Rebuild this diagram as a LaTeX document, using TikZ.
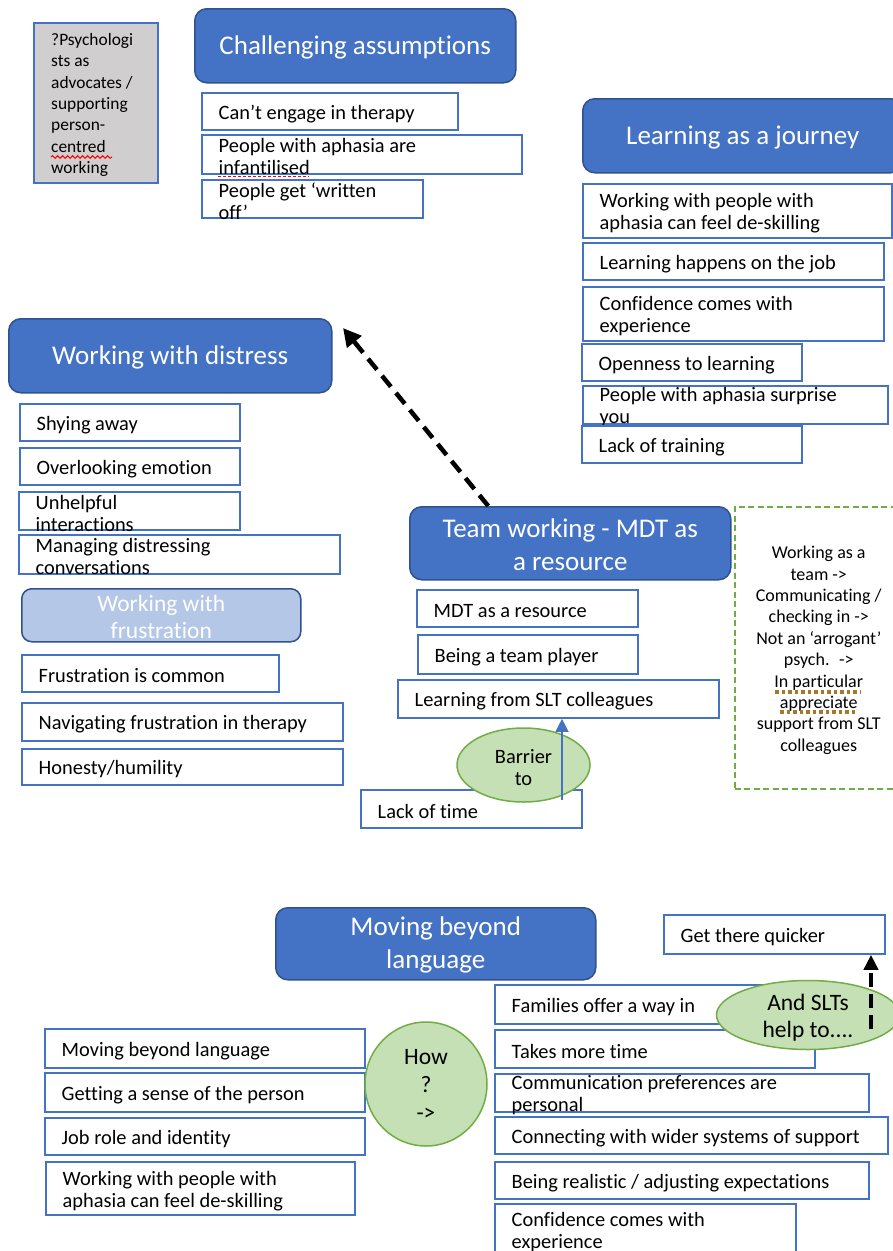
\documentclass[tikz,border=0pt]{standalone}
\usepackage{fontspec}
\setmainfont{Carlito}[Ligatures={NoCommon}]
\usetikzlibrary{arrows.meta,shapes.geometric,decorations.pathmorphing}

\definecolor{hdrfill}{HTML}{4472C4}
\definecolor{hdrline}{HTML}{2F528F}
\definecolor{boxline}{HTML}{4472C4}
\definecolor{lightfill}{HTML}{B4C7E7}
\definecolor{greyfill}{HTML}{D0CECE}
\definecolor{ovalfill}{HTML}{C5E0B4}
\definecolor{ovalline}{HTML}{70AD47}
\definecolor{grammar}{HTML}{A8782A}

\tikzset{
  itembox/.style={draw=boxline, line width=1.8pt, fill=white, rectangle, inner sep=0pt},
  itemtext/.style={align=left, inner sep=0pt, font=\fontsize{20.4}{22}\selectfont},
  header/.style={draw=hdrline, line width=1.5pt, fill=hdrfill, rounded corners=12pt,
    rectangle, inner sep=0pt},
  headertext/.style={text=white, align=center, inner sep=0pt, font=\fontsize{27}{33}\selectfont},
  subheader/.style={header, fill=lightfill, rounded corners=10pt},
  subheadertext/.style={headertext, font=\fontsize{23.5}{27}\selectfont},
  greybox/.style={draw=boxline, line width=1.8pt, fill=greyfill, rectangle, inner sep=0pt},
  greytext/.style={align=left, inner sep=0pt, font=\fontsize{17.4}{21.3}\selectfont},
  oval/.style={ellipse, draw=ovalline, line width=1.5pt, fill=ovalfill,
    inner sep=-2pt, align=center},
  ovaltext/.style={align=center, inner sep=0pt},
  notebox/.style={draw=ovalline, line width=1.5pt, dash pattern=on 6pt off 3.5pt,
    rectangle, inner sep=0pt},
  notetext/.style={align=center, inner sep=0pt, font=\fontsize{18}{21.4}\selectfont},
  bigdash/.style={draw=black, line width=4.5pt, dash pattern=on 14pt off 8pt,
    -{Triangle[length=18pt,width=18pt]}},
  thinarrow/.style={draw=boxline, line width=1.2pt, -{Triangle[length=13pt,width=13pt]}},
  spellmark/.style={draw=red, line width=1pt, decorate,
    decoration={snake, amplitude=1.3pt, segment length=5pt}},
  spelldots/.style={draw=red, line width=1.6pt, dash pattern=on 2.5pt off 2.5pt},
  grammardots/.style={draw=grammar, line width=3.5pt, dash pattern=on 3.5pt off 3pt}
}

% item box: [extra text shift], name, left, top, right, bottom, text
\newcommand\itembx[7][-2.5pt]{%
  \node[itembox, anchor=north west, minimum width={#5-#3}, minimum height={#6-#4}] (#2) at (#3,#4) {};
  \node[itemtext, anchor=west] (#2-t) at ([xshift=17.5pt, yshift=#1]#2.west) {#7};}
% header box: [box style], name, left, top, right, bottom, text
\newcommand\headerbx[7][header]{%
  \node[#1, anchor=north west, minimum width={#5-#3}, minimum height={#6-#4}] (#2) at (#3,#4) {};
  \node[#1text] (#2-t) at ([yshift=-1.5pt]#2.center) {#7};}

\begin{document}
\begin{tikzpicture}[x=1pt, y=-1pt]
\useasboundingbox (0,0) rectangle (893,1251);
\clip (0,0) rectangle (893,1251);

% ---- advocacy note and challenging assumptions
\node[greybox, anchor=north west, minimum width=124, minimum height=160] (advocate) at (33,22) {};
\node[greytext, anchor=west] (advocate-t) at ([xshift=18pt, yshift=-2pt]advocate.west)
  {?Psychologi\\sts as\\advocates /\\supporting\\person-\\centred\\working};
\draw[spellmark] (51,157) -- (112,157);

\headerbx{challenging}{194}{8}{515}{82}{Challenging assumptions}
\itembx{engage}{201}{92}{457}{129}{Can’t engage in therapy}
\itembx{infant}{201}{134}{521}{173}{People with aphasia are\\infantilised}
\itembx{writtenoff}{201}{179}{422}{217}{People get ‘written\\off’}
\draw[spelldots] (218,176.5) -- (309,176.5);

% ---- learning as a journey
\headerbx{journey}{582}{98}{902}{172}{Learning as a journey}
\itembx{deskill}{582}{183}{891}{237}{Working with people with\\aphasia can feel de-skilling}
\itembx{onjob}{582}{242}{883}{279}{Learning happens on the job}
\itembx{confid}{582}{286}{883}{340}{Confidence comes with\\experience}
\itembx{openness}{581}{343}{801}{380}{Openness to learning}
\itembx{surprise}{582}{385}{887}{423}{People with aphasia surprise\\you}
\itembx{training}{581}{425}{801}{462}{Lack of training}

% ---- working with distress / frustration
\headerbx{distress}{8}{318}{331}{392}{Working with distress}
\itembx{shying}{19}{403}{239}{440}{Shying away}
\itembx{overlook}{19}{447}{239}{484}{Overlooking emotion}
\itembx{unhelpful}{18}{491}{239}{529}{Unhelpful\\interactions}
\itembx{managing}{18}{534}{339}{573}{Managing distressing\\conversations}
\headerbx[subheader]{frustration}{21}{588}{300}{641}{Working with\\frustration}
\itembx{common}{21}{654}{278}{691}{Frustration is common}
\itembx{navigating}{21}{702}{342}{740}{Navigating frustration in therapy}
\itembx{honesty}{21}{748}{342}{784}{Honesty/humility}

% ---- team working
\headerbx{team}{409}{506}{730}{579}{Team working - MDT as\\a resource}
\itembx{mdt}{416}{589}{637}{626}{MDT as a resource}
\itembx{player}{417}{634}{637}{673}{Being a team player}
\itembx{sltlearn}{397}{679}{718}{717}{Learning from SLT colleagues}
\itembx{notime}{360}{789}{581}{827}{Lack of time}
\node[oval, minimum width=133, minimum height=74] (barrier) at (523.5,765) {};
\node[ovaltext, font=\fontsize{20.4}{22}\selectfont] (barrier-t) at ([yshift=-2.5pt]barrier.center) {Barrier\\to};
\coordinate (timefoot) at (562,800);
\draw[thinarrow] (timefoot) -- (timefoot |- sltlearn.south);

\node[notebox, anchor=north west, minimum width=168, minimum height=282] (note) at (734,506) {};
\node[notetext] (note-t) at ([yshift=-2.5pt]note.center)
  {Working as a\\team ->\\Communicating /\\checking in ->\\Not an ‘arrogant’\\psych.~ ->\\In particular\\appreciate\\support from SLT\\colleagues};
\draw[grammardots] (775,692) -- (861,692);
\draw[grammardots] (780,712) -- (857,712);

\coordinate (distresstip) at (343,328);
\draw[bigdash] ([xshift=-82pt]team.north) -- (distresstip);

% ---- moving beyond language
\headerbx{beyond}{275}{907}{595}{979}{Moving beyond\\language}
\itembx{quicker}{663}{914}{884}{953}{Get there quicker}
\itembx{families}{494}{984}{815}{1023}{Families offer a way in}
\itembx{moretime}{494}{1029}{814}{1067}{Takes more time}
\itembx{prefs}{494}{1073}{868}{1111}{Communication preferences are\\personal}
\itembx{wider}{494}{1116}{887}{1153}{Connecting with wider systems of support}
\itembx{realistic}{494}{1161}{868}{1198}{Being realistic / adjusting expectations}
\itembx[-0.5pt]{confid2}{494}{1203}{795}{1258}{Confidence comes with\\experience}

\itembx{beyondlang}{44}{1028}{364}{1067}{Moving beyond language}
\itembx{sense}{44}{1072}{364}{1111}{Getting a sense of the person}
\itembx{jobrole}{44}{1117}{364}{1154}{Job role and identity}
\itembx{deskill2}{45}{1161}{354}{1214}{Working with people with\\aphasia can feel de-skilling}

\node[oval, minimum width=122, minimum height=124] (how) at (426,1084) {};
\node[ovaltext, font=\fontsize{23.5}{28}\selectfont] (how-t) at ([yshift=-1pt]how.center) {How\\?\\->};
\node[oval, minimum width=183, minimum height=69] (slts) at (808,1015) {};
\node[ovaltext, font=\fontsize{23.5}{27}\selectfont] (slts-t) at ([yshift=-3pt]slts.center) {And SLTs\\help to....};
\coordinate (sltsfoot) at (871,1029);
\draw[bigdash, line width=4pt, dash pattern=on 14pt off 7pt, -{Triangle[length=15pt,width=14pt]}]
  (sltsfoot) -- (sltsfoot |- quicker.south);
\end{tikzpicture}
\end{document}
